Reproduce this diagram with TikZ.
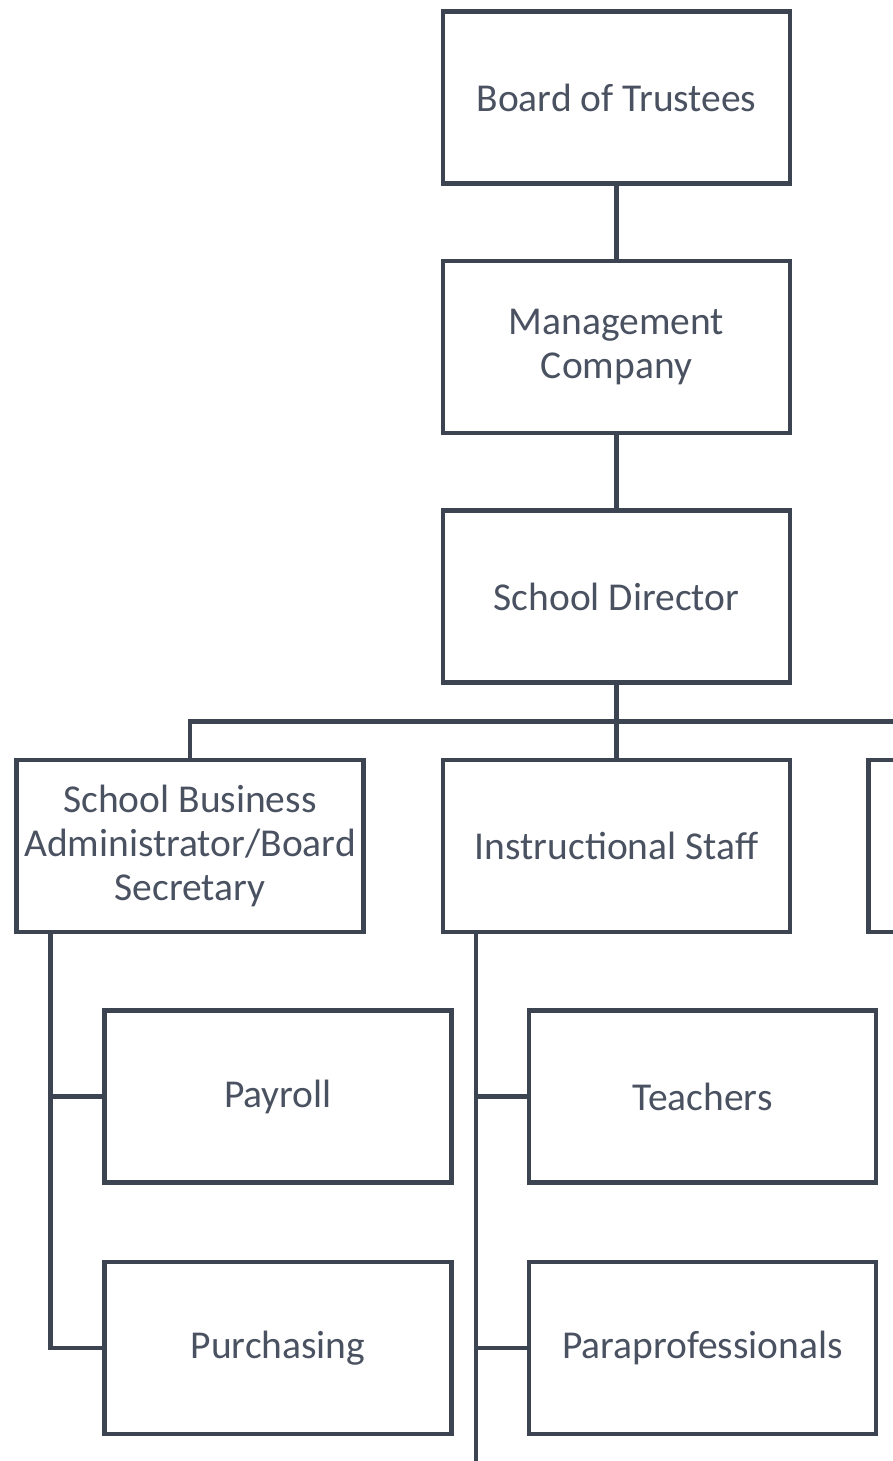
\documentclass[tikz,border=0pt]{standalone}
\usepackage{fontspec}
\setmainfont{Carlito}
\usetikzlibrary{positioning, calc}
\definecolor{linegray}{HTML}{3B4450}
\definecolor{textgray}{HTML}{4A5261}
\tikzset{
  orgbox/.style={
    rectangle, draw=linegray, line width=4.5pt, fill=white,
    minimum width=347pt, minimum height=172pt, inner sep=0pt,
    align=center, text=textgray, font=\fontsize{39.5}{44}\selectfont
  },
  link/.style={draw=linegray, line width=4.5pt}
}

\begin{document}
\begin{tikzpicture}[x=1pt, y=1pt]
    \useasboundingbox (0,0) rectangle (893,-1461);
    \clip (0,0) rectangle (893,-1461);
    % top chain
    \node[orgbox] (bot) at (616.5,-97.5) {Board of Trustees};
    \node[orgbox, below=73pt of bot] (mgmt) {Management\\Company};
    \node[orgbox, below=73pt of mgmt] (dir) {School Director};
    % second row
    \node[orgbox, below=73pt of dir] (inst) {Instructional Staff};
    \node[orgbox, left=75pt of inst] (sba) {School Business\\Administrator/Board\\Secretary};
    \node[orgbox, right=74pt of inst] (ops) {};
    % units under each head
    \node[orgbox, below right=74pt and 88pt of sba.south west, anchor=north west] (payroll) {Payroll};
    \node[orgbox, below=75pt of payroll] (purch) {Purchasing};
    \node[orgbox, below right=74pt and 86pt of inst.south west, anchor=north west] (teach) {Teachers};
    \node[orgbox, below=75pt of teach] (para) {Paraprofessionals};
    % connectors
    \coordinate (bus) at ($(dir.south)!.5!(inst.north)$);
    \coordinate (sbatrunk) at ([xshift=36pt]sba.south west);
    \coordinate (insttrunk) at ([xshift=35pt]inst.south west);
    \coordinate (instend) at ([yshift=-40pt]insttrunk |- para.south);
    \draw[link] (bot) -- (mgmt);
    \draw[link] (mgmt) -- (dir);
    \draw[link] (dir) -- (inst);
    \draw[link] (sba.north) |- (bus) -| (ops.north);
    \draw[link] (sbatrunk) |- (payroll.west);
    \draw[link] (sbatrunk) |- (purch.west);
    \draw[link] (insttrunk) -- (instend);
    \draw[link] (insttrunk |- teach.west) -- (teach.west);
    \draw[link] (insttrunk |- para.west) -- (para.west);
\end{tikzpicture}
\end{document}
